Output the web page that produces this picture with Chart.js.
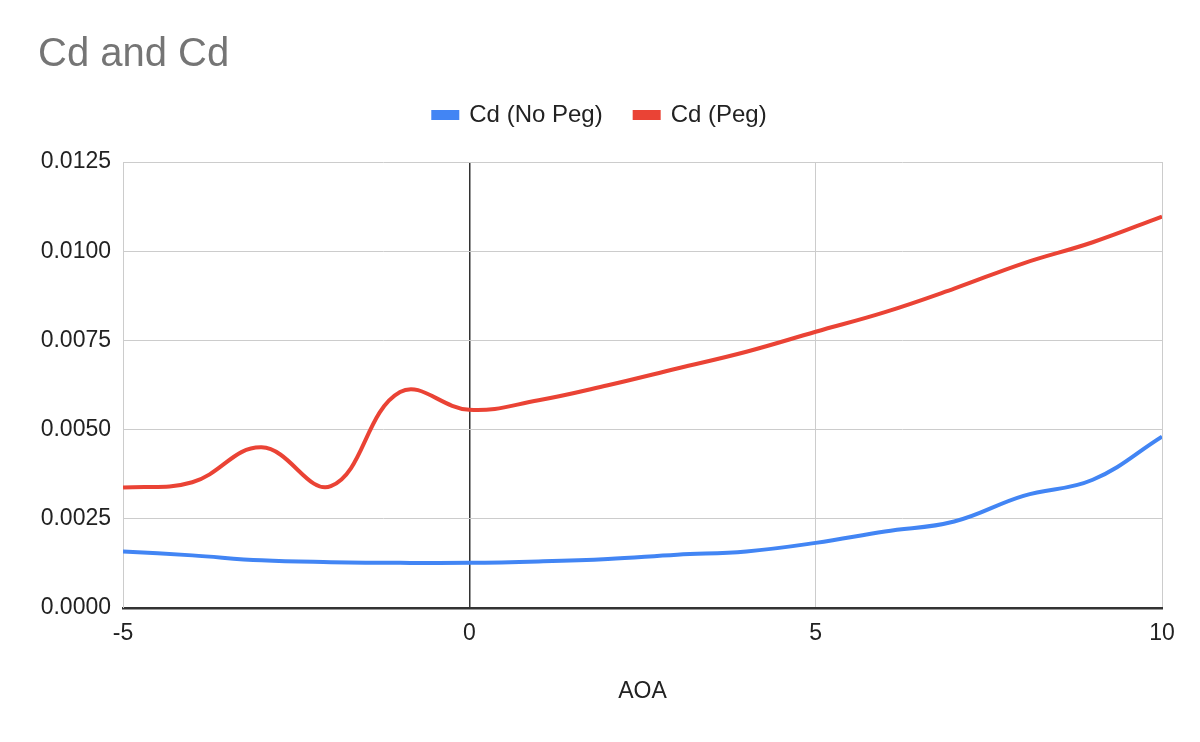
<!DOCTYPE html>
<html>
<head>
<meta charset="utf-8">
<script src="https://cdn.jsdelivr.net/npm/chart.js@4"></script>
<style>
  html, body { margin: 0; padding: 0; background: #fff; }
  #wrap { width: 1200px; height: 742px; }
</style>
</head>
<body>
<div id="wrap"><canvas id="cd-chart" width="1200" height="742"></canvas></div>
<script>
const aoa = [-5, -4, -3, -2, -1, 0, 1, 2, 3, 4, 5, 6, 7, 8, 9, 10];
const cdNoPeg = [0.00158, 0.00147, 0.00133, 0.00128, 0.00126, 0.00126, 0.00130, 0.00137, 0.00149, 0.00158, 0.00182, 0.00214, 0.00242, 0.00314, 0.00359, 0.00480];
const cdPeg = [0.00337, 0.00352, 0.00450, 0.00341, 0.00605, 0.00555, 0.00582, 0.00624, 0.00671, 0.00718, 0.00774, 0.00829, 0.00895, 0.00966, 0.01025, 0.01097];
const yTicks = [0, 0.0025, 0.005, 0.0075, 0.01, 0.0125];

const FONT = '"Liberation Sans", Arial, sans-serif';

const toPoints = (ys) => aoa.map((x, i) => ({ x: x, y: ys[i] }));

// push the plot area down a bit below the legend
const legendGap = {
  id: 'legendGap',
  beforeInit(chart) {
    const fit = chart.legend.fit;
    chart.legend.fit = function () {
      fit.bind(chart.legend)();
      this.height += 25;
    };
  },
};

new Chart(document.getElementById('cd-chart').getContext('2d'), {
  type: 'scatter',
  data: {
    datasets: [
      {
        label: 'Cd (No Peg)',
        data: toPoints(cdNoPeg),
        showLine: true,
        borderColor: '#4285f4',
        backgroundColor: '#4285f4',
        borderWidth: 4,
        pointRadius: 0,
        tension: 0.4,
      },
      {
        label: 'Cd (Peg)',
        data: toPoints(cdPeg),
        showLine: true,
        borderColor: '#ea4335',
        backgroundColor: '#ea4335',
        borderWidth: 4,
        pointRadius: 0,
        tension: 0.4,
      },
    ],
  },
  options: {
    responsive: false,
    animation: false,
    layout: { padding: { left: 38, right: 38, top: 0, bottom: 37 } },
    plugins: {
      title: {
        display: true,
        text: 'Cd and Cd',
        align: 'start',
        color: '#757575',
        font: { family: FONT, size: 40, weight: 'normal', lineHeight: 0.8 },
        padding: { top: 39, bottom: 0 },
      },
      legend: {
        position: 'top',
        labels: {
          color: '#222',
          font: { family: FONT, size: 24 },
          boxWidth: 24,
          boxHeight: 6,
          padding: 32,
        },
      },
      tooltip: { enabled: false },
    },
    scales: {
      x: {
        type: 'linear',
        min: -5,
        max: 10,
        ticks: { stepSize: 5, color: '#222', font: { family: FONT, size: 23 }, padding: 12 },
        grid: {
          drawTicks: false,
          color: (ctx) => (ctx.tick && ctx.tick.value === 0 ? '#333' : '#ccc'),
          lineWidth: (ctx) => (ctx.tick && ctx.tick.value === 0 ? 1.5 : 1),
        },
        border: { color: '#333', width: 2.5 },
        title: {
          display: true,
          text: 'AOA',
          color: '#222',
          font: { family: FONT, size: 23 },
          padding: { top: 18, bottom: 0 },
        },
      },
      y: {
        min: 0,
        max: 0.0125,
        afterBuildTicks: (scale) => { scale.ticks = yTicks.map((v) => ({ value: v })); },
        afterFit: (scale) => { scale.width = 85; },
        ticks: {
          color: '#222',
          font: { family: FONT, size: 23 },
          padding: 12,
          callback: (v) => Number(v).toFixed(4),
        },
        grid: { drawTicks: false, color: '#ccc', lineWidth: 1 },
        border: { color: '#ccc', width: 1 },
      },
    },
  },
  plugins: [legendGap],
});
</script>
</body>
</html>
